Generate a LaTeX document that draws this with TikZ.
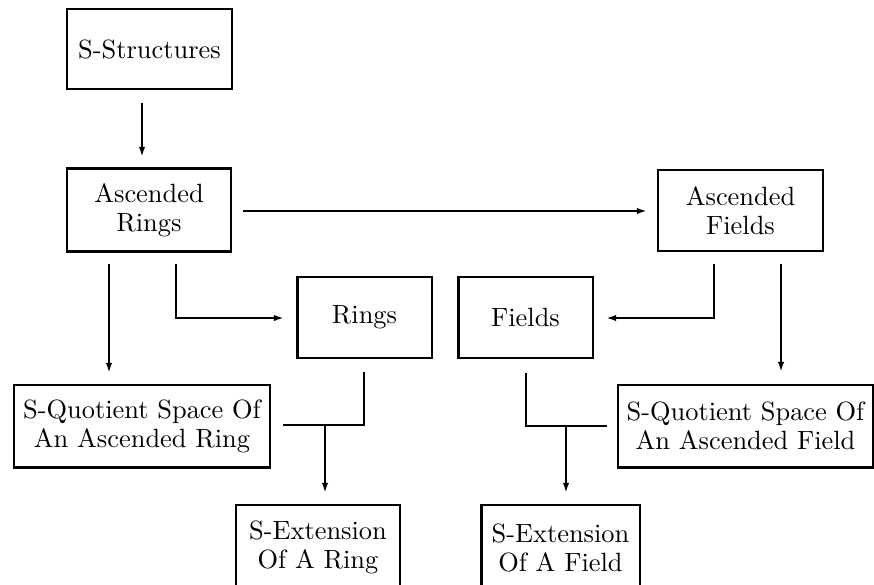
\documentclass[tikz,border=0pt]{standalone}
\usetikzlibrary{arrows.meta}
\begin{document}
\begin{tikzpicture}[x=0.3788pt,y=-0.3788pt,
  box/.style={draw,line width=1.1pt,inner sep=0pt,align=center,
    font=\fontsize{10}{11}\selectfont},
  conn/.style={line width=0.8pt},
  arr/.style={conn,-{Latex[length=3.8pt,width=2.4pt]}}]
\useasboundingbox (0,0) rectangle (874,584);
% boxes
\node[box,minimum width=62.5pt,minimum height=30.3pt] (SS) at (149.5,49) {S-Structures};
\node[box,minimum width=62.1pt,minimum height=31.1pt] (AR) at (149,210) {Ascended\\Rings};
\node[box,minimum width=62.5pt,minimum height=30.7pt] (AF) at (740.5,210.5) {Ascended\\Fields};
\node[box,minimum width=51.1pt,minimum height=30.7pt] (R) at (364.5,317.5) {Rings};
\node[box,minimum width=51.1pt,minimum height=30.7pt] (F) at (525.5,317.5) {Fields};
\node[box,minimum width=97.0pt,minimum height=31.1pt] (SQR) at (142,426) {S-Quotient Space Of\\An Ascended Ring};
\node[box,minimum width=96.6pt,minimum height=31.1pt] (SQF) at (745.5,426) {S-Quotient Space Of\\An Ascended Field};
\node[box,minimum width=62.1pt,minimum height=32.2pt] (SER) at (318,547.5) {S-Extension\\Of A Ring};
\node[box,minimum width=60.2pt,minimum height=32.2pt] (SEF) at (560.5,547.5) {S-Extension\\Of A Field};
% connector points
\coordinate (a1) at (142,103);  \coordinate (a2) at (142,157);
\coordinate (b1) at (243,211);  \coordinate (b2) at (647,211);
\coordinate (c1) at (109,264);  \coordinate (c2) at (109,373);
\coordinate (d1) at (176,264);  \coordinate (d2) at (176,318); \coordinate (d3) at (284,318);
\coordinate (e1) at (714,264);  \coordinate (e2) at (714,318); \coordinate (e3) at (606,318);
\coordinate (f1) at (781,264);  \coordinate (f2) at (781,372);
\coordinate (g1) at (364,372);  \coordinate (g2) at (364,425); \coordinate (g3) at (283,425);
\coordinate (g4) at (325,425);  \coordinate (g5) at (325,493);
\coordinate (h1) at (526,373);  \coordinate (h2) at (526,426); \coordinate (h3) at (607,426);
\coordinate (h4) at (566,426);  \coordinate (h5) at (566,493);
% connectors
\draw[arr] (a1) -- (a2);
\draw[arr] (b1) -- (b2);
\draw[arr] (c1) -- (c2);
\draw[arr] (d1) -- (d2) -- (d3);
\draw[arr] (e1) -- (e2) -- (e3);
\draw[arr] (f1) -- (f2);
\draw[conn] (g1) -- (g2) -- (g3);
\draw[arr] (g4) -- (g5);
\draw[conn] (h1) -- (h2) -- (h3);
\draw[arr] (h4) -- (h5);
\end{tikzpicture}
\end{document}
